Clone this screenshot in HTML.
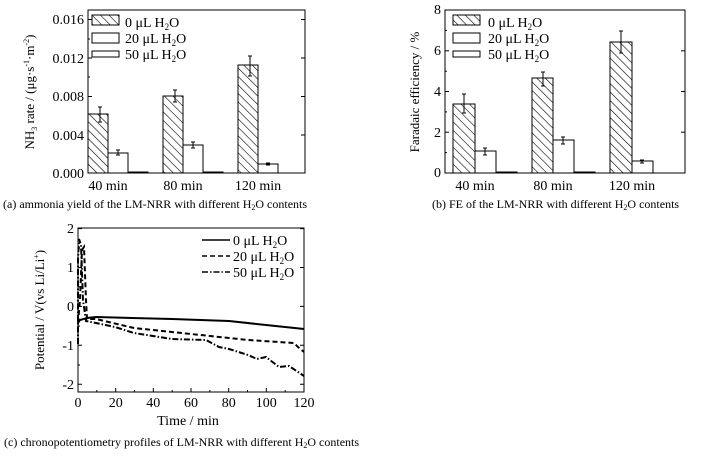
<!DOCTYPE html>
<html><head><meta charset="utf-8"><style>
html,body{margin:0;padding:0;background:#fff;}
svg{display:block;font-family:"Liberation Serif",serif;}
</style></head><body>
<svg width="712" height="459" viewBox="0 0 712 459" xmlns="http://www.w3.org/2000/svg">
<defs>
<pattern id="h" patternUnits="userSpaceOnUse" width="6" height="6" patternTransform="rotate(-45)">
<rect width="6" height="6" fill="#fff"/><line x1="0" y1="0" x2="0" y2="6" stroke="#000" stroke-width="1.2"/>
</pattern>
</defs>
<g fill="none" stroke="#000" stroke-width="1">
<!-- Panel a -->
<rect x="88" y="10" width="217" height="163"/>
<g stroke-width="1">
<line x1="88" y1="19.5" x2="92" y2="19.5"/><line x1="88" y1="58" x2="92" y2="58"/><line x1="88" y1="96.5" x2="92" y2="96.5"/><line x1="88" y1="135" x2="92" y2="135"/>
<line x1="88" y1="39" x2="90" y2="39"/><line x1="88" y1="77" x2="90" y2="77"/><line x1="88" y1="116" x2="90" y2="116"/><line x1="88" y1="154" x2="90" y2="154"/>
<line x1="305" y1="19.5" x2="301" y2="19.5"/><line x1="305" y1="58" x2="301" y2="58"/><line x1="305" y1="96.5" x2="301" y2="96.5"/><line x1="305" y1="135" x2="301" y2="135"/>
</g>
<rect x="88" y="114" width="20" height="59" fill="url(#h)"/>
<rect x="108" y="153" width="20" height="20" fill="#fff"/>
<rect x="128" y="172" width="20" height="1" fill="#fff"/>
<rect x="163" y="96" width="20" height="77" fill="url(#h)"/>
<rect x="183" y="145" width="20" height="28" fill="#fff"/>
<rect x="203" y="172" width="20" height="1" fill="#fff"/>
<rect x="238" y="65" width="20" height="108" fill="url(#h)"/>
<rect x="258" y="164" width="20" height="9" fill="#fff"/>
<path d="M98,107H102M100,107V122M98,122H102 M173,90H177M175,90V102M173,102H177 M248,56H252M250,56V76M248,76H252 M116,150H120M118,150V155M116,155H120 M191,142H195M193,142V148M191,148H195 M266,163H270M268,163V165M266,165H270"/>
<rect x="92" y="15" width="27" height="10" fill="url(#h)"/>
<rect x="92" y="33" width="27" height="10" fill="#fff"/>
<rect x="92" y="51" width="27" height="6" fill="#fff"/>
<!-- Panel b -->
<rect x="445" y="10" width="240" height="163"/>
<line x1="445" y1="50.8" x2="449" y2="50.8"/><line x1="445" y1="91.5" x2="449" y2="91.5"/><line x1="445" y1="132.2" x2="449" y2="132.2"/>
<line x1="445" y1="30.4" x2="447" y2="30.4"/><line x1="445" y1="71.2" x2="447" y2="71.2"/><line x1="445" y1="111.9" x2="447" y2="111.9"/><line x1="445" y1="152.6" x2="447" y2="152.6"/>
<line x1="685" y1="50.8" x2="681" y2="50.8"/><line x1="685" y1="91.5" x2="681" y2="91.5"/><line x1="685" y1="132.2" x2="681" y2="132.2"/>
<rect x="453" y="104" width="22" height="69" fill="url(#h)"/>
<rect x="475" y="151" width="21" height="22" fill="#fff"/>
<rect x="496" y="172" width="21" height="1" fill="#fff"/>
<rect x="532" y="78" width="21" height="95" fill="url(#h)"/>
<rect x="553" y="140" width="21" height="33" fill="#fff"/>
<rect x="574" y="172" width="21" height="1" fill="#fff"/>
<rect x="610" y="42" width="22" height="131" fill="url(#h)"/>
<rect x="632" y="161" width="21" height="12" fill="#fff"/>
<path d="M462,94H466M464,94V113M462,113H466 M541,72H545M543,72V86M541,86H545 M619,31H623M621,31V53M619,53H623 M483,148H487M485,148V155M483,155H487 M561,137H565M563,137V144M561,144H565 M640,160H644M642,160V163M640,163H644"/>
<rect x="453" y="15" width="27" height="10" fill="url(#h)"/>
<rect x="453" y="33" width="27" height="10" fill="#fff"/>
<rect x="453" y="51" width="27" height="6" fill="#fff"/>
<!-- Panel c -->
<rect x="78" y="228" width="226" height="164"/>
<path d="M78,228.6h4M78,267.5h4M78,306.4h4M78,345.3h4M78,384.2h4 M78,248h2M78,287h2M78,326h2M78,365h2 M304,228.6h-4M304,267.5h-4M304,306.4h-4M304,345.3h-4M304,384.2h-4"/>
<path d="M115.7,392v-4M153.3,392v-4M191,392v-4M228.7,392v-4M266.3,392v-4 M96.8,392v-2M134.5,392v-2M172.2,392v-2M209.8,392v-2M247.5,392v-2M285.2,392v-2"/>
<g stroke-width="2">
<path d="M78,323 L80,320 L87,318 L96,317 L172,319 L229,321 L266,325 L304,329"/>
<path stroke-dasharray="5,3" d="M78,323 L80,300 L82,250 L84,247 L86,300 L87,319 L96,319 L134,328 L191,334 L248,340 L294,343 L298,347 L304,352"/>
<path stroke-dasharray="6,2,1.5,2" d="M78,344 L78,260 L79,239 L81,245 L83,300 L86,321 L96,323 L115,327 L134,333 L172,339 L206,340 L219,347 L229,349 L248,355 L257,359 L266,357 L279,367 L289,366 L304,376"/>
</g>
<g stroke-width="1.6">
<line x1="202" y1="240" x2="230" y2="240"/>
<line x1="202" y1="256" x2="230" y2="256" stroke-dasharray="5,3"/>
<line x1="202" y1="272" x2="230" y2="272" stroke-dasharray="6,2,1.5,2"/>
</g>
</g>
<g font-size="14" fill="#000">
<g text-anchor="end">
<text x="84" y="24">0.016</text><text x="84" y="63">0.012</text><text x="84" y="101">0.008</text><text x="84" y="140">0.004</text><text x="84" y="178">0.000</text>
<text x="441" y="14">8</text><text x="441" y="55">6</text><text x="441" y="96">4</text><text x="441" y="137">2</text><text x="441" y="177">0</text>
<text x="74" y="233">2</text><text x="74" y="272">1</text><text x="74" y="311">0</text><text x="74" y="350">-1</text><text x="74" y="389">-2</text>
</g>
<g text-anchor="middle">
<text x="108" y="190">40 min</text><text x="183" y="190">80 min</text><text x="258" y="190">120 min</text>
<text x="475" y="190">40 min</text><text x="553" y="190">80 min</text><text x="632" y="190">120 min</text>
<text x="78" y="407">0</text><text x="115.7" y="407">20</text><text x="153.3" y="407">40</text><text x="191" y="407">60</text><text x="228.7" y="407">80</text><text x="266.3" y="407">100</text><text x="304" y="407">120</text>
<text x="188" y="425">Time / min</text>
</g>
<text x="125" y="27">0 μL H<tspan font-size="9" dy="3">2</tspan><tspan dy="-3">O</tspan></text>
<text x="125" y="43">20 μL H<tspan font-size="9" dy="3">2</tspan><tspan dy="-3">O</tspan></text>
<text x="125" y="59">50 μL H<tspan font-size="9" dy="3">2</tspan><tspan dy="-3">O</tspan></text>
<text x="488" y="27">0 μL H<tspan font-size="9" dy="3">2</tspan><tspan dy="-3">O</tspan></text>
<text x="488" y="43">20 μL H<tspan font-size="9" dy="3">2</tspan><tspan dy="-3">O</tspan></text>
<text x="488" y="59">50 μL H<tspan font-size="9" dy="3">2</tspan><tspan dy="-3">O</tspan></text>
<text x="233" y="245">0 μL H<tspan font-size="9" dy="3">2</tspan><tspan dy="-3">O</tspan></text>
<text x="233" y="261">20 μL H<tspan font-size="9" dy="3">2</tspan><tspan dy="-3">O</tspan></text>
<text x="233" y="277">50 μL H<tspan font-size="9" dy="3">2</tspan><tspan dy="-3">O</tspan></text>
<text transform="translate(34,92) rotate(-90)" text-anchor="middle" font-size="13">NH<tspan font-size="8" dy="3">3</tspan><tspan dy="-3"> rate / (μg·s</tspan><tspan font-size="8" dy="-5">-1</tspan><tspan dy="5">·m</tspan><tspan font-size="8" dy="-5">-2</tspan><tspan dy="5">)</tspan></text>
<text transform="translate(419,92) rotate(-90)" text-anchor="middle" font-size="13">Faradaic efficiency / %</text>
<text transform="translate(44,310) rotate(-90)" text-anchor="middle" font-size="13">Potential / V(vs Li/Li<tspan font-size="8" dy="-5">+</tspan><tspan dy="5">)</tspan></text>
</g>
<g font-size="12" fill="#000">
<text x="3" y="208">(a) ammonia yield of the LM-NRR with different H<tspan font-size="8" dy="2">2</tspan><tspan dy="-2">O contents</tspan></text>
<text x="432" y="208">(b) FE of the LM-NRR with different H<tspan font-size="8" dy="2">2</tspan><tspan dy="-2">O contents</tspan></text>
<text x="4" y="446">(c) chronopotentiometry profiles of LM-NRR with different H<tspan font-size="8" dy="2">2</tspan><tspan dy="-2">O contents</tspan></text>
</g>
</svg>
</body></html>
